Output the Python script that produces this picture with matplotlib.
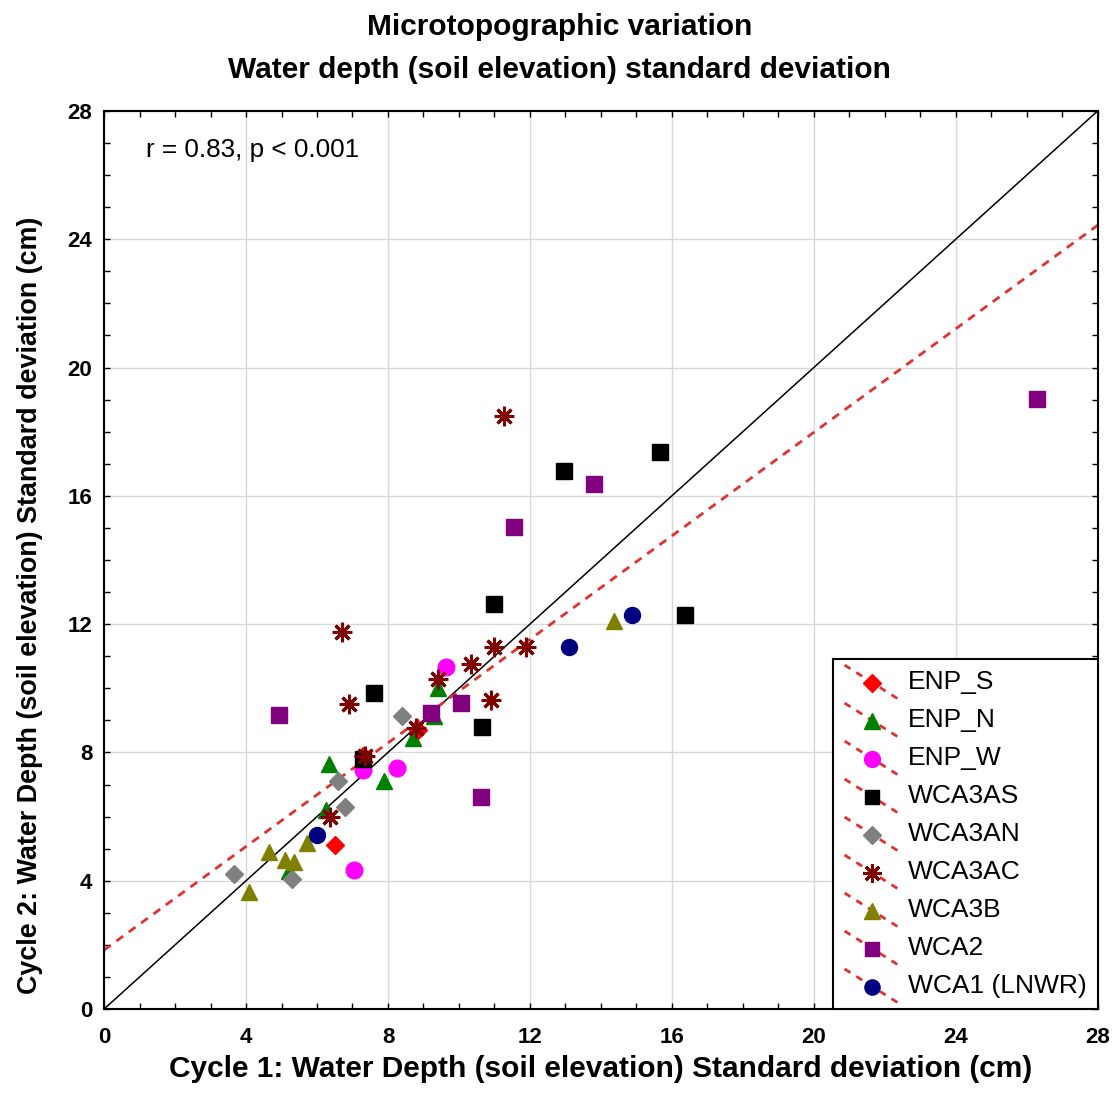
import numpy as np
import matplotlib
matplotlib.use('Agg')
import matplotlib.pyplot as plt
from matplotlib.lines import Line2D
from matplotlib.legend_handler import HandlerBase

plt.rcParams['font.family'] = ['Liberation Sans', 'DejaVu Sans']

# site groups and their (cycle 1, cycle 2) standard deviations
sites = ['ENP_S', 'ENP_N', 'ENP_W', 'WCA3AS', 'WCA3AN', 'WCA3AC', 'WCA3B', 'WCA2', 'WCA1 (LNWR)']

enp_s_x = [6.5, 7.3, 8.85]
enp_s_y = [5.1, 7.9, 8.7]
enp_n_x = [5.2, 6.25, 6.35, 7.9, 8.7, 9.3, 9.4]
enp_n_y = [4.3, 6.2, 7.65, 7.1, 8.45, 9.15, 10.0]
enp_w_x = [7.04, 7.3, 8.25, 9.63]
enp_w_y = [4.33, 7.45, 7.5, 10.66]
wca3as_x = [7.3, 7.6, 10.65, 10.99, 12.96, 15.66, 16.37]
wca3as_y = [7.8, 9.85, 8.8, 12.63, 16.78, 17.37, 12.29]
wca3an_x = [3.65, 5.3, 6.6, 6.8, 8.4]
wca3an_y = [4.2, 4.05, 7.1, 6.3, 9.15]
wca3ac_x = [6.37, 6.7, 6.9, 7.35, 8.8, 9.4, 10.35, 10.9, 11.0, 11.9, 11.27]
wca3ac_y = [6.0, 11.75, 9.5, 7.9, 8.75, 10.3, 10.75, 9.65, 11.3, 11.3, 18.49]
wca3b_x = [4.08, 4.65, 5.1, 5.35, 5.72, 14.37]
wca3b_y = [3.65, 4.9, 4.65, 4.6, 5.17, 12.1]
wca2_x = [4.93, 9.2, 10.05, 10.62, 11.55, 13.8, 26.28]
wca2_y = [9.17, 9.22, 9.54, 6.61, 15.03, 16.37, 19.02]
wca1_x = [6.0, 13.1, 14.87]
wca1_y = [5.43, 11.29, 12.29]

xs = [enp_s_x, enp_n_x, enp_w_x, wca3as_x, wca3an_x, wca3ac_x, wca3b_x, wca2_x, wca1_x]
ys = [enp_s_y, enp_n_y, enp_w_y, wca3as_y, wca3an_y, wca3ac_y, wca3b_y, wca2_y, wca1_y]

# regression line
fit_intercept = 1.84
fit_slope = 0.807

colors = ['#ff0000', '#008000', '#ff00ff', '#000000', '#808080', '#800000', '#808000', '#800080', '#000080']
markers = ['D', '^', 'o', 's', 'D', (8, 2, 0), '^', 's', 'o']
sizes = [9.5, 12, 12, 11, 9.5, 14, 12, 11, 11.5]


# Statistica style legend key: marker with the dashed fit line running diagonally through it
class DiagHandler(HandlerBase):
    def create_artists(self, legend, orig_handle, xdescent, ydescent, width, height, fontsize, trans):
        x0 = -xdescent
        y0 = -ydescent
        line = Line2D([x0, x0 + width], [y0 + height * 1.3, y0 - height * 0.6],
                      color='#e03030', linestyle=(0, (2.5, 2.5)), linewidth=2)
        mk = Line2D([x0 + width * 0.5], [y0 + height * 0.35], marker=orig_handle.get_marker(),
                    markersize=orig_handle.get_markersize() * 0.95,
                    color=orig_handle.get_color(), markeredgecolor=orig_handle.get_markeredgecolor(),
                    markeredgewidth=orig_handle.get_markeredgewidth(), linestyle='none')
        line.set_transform(trans)
        mk.set_transform(trans)
        return [line, mk]


fig = plt.figure(figsize=(11.19, 10.98), dpi=100)
ax = fig.add_axes([0.093, 0.081, 0.888, 0.818])

handles = []
for i in range(len(sites)):
    h, = ax.plot(xs[i], ys[i], linestyle='none', marker=markers[i], markersize=sizes[i],
                 color=colors[i], markeredgecolor=colors[i],
                 markeredgewidth=2.2 if i == 5 else 1, label=sites[i], zorder=3)
    handles.append(h)

line_x = np.array([0, 28])
ax.plot(line_x, line_x, color='black', linewidth=1.1, zorder=2)
ax.plot(line_x, fit_intercept + fit_slope * line_x, color='#e03030', linewidth=2,
        linestyle=(0, (3, 2.5)), zorder=2)

ax.set_xlim(0, 28)
ax.set_ylim(0, 28)
ax.set_xticks(np.arange(0, 29, 4))
ax.set_yticks(np.arange(0, 29, 4))
ax.set_xticks(np.arange(0, 29, 1), minor=True)
ax.set_yticks(np.arange(0, 29, 1), minor=True)
ax.tick_params(which='both', direction='in', top=True, right=True, length=4, width=1)
ax.tick_params(axis='x', which='major', labelsize=16, pad=13)
ax.tick_params(axis='y', which='major', labelsize=16, pad=8.5)
for lab in ax.get_xticklabels() + ax.get_yticklabels():
    lab.set_fontweight('bold')
for sp in ax.spines.values():
    sp.set_linewidth(1.5)
ax.grid(True, which='major', color='#d8d8d8', linewidth=1, zorder=0)
ax.set_axisbelow(True)

ax.set_xlabel('Cycle 1: Water Depth (soil elevation) Standard deviation (cm)',
              fontsize=21.5, fontweight='bold', va='center')
ax.xaxis.set_label_coords(0.5, -0.067)
ax.set_ylabel('Cycle 2: Water Depth (soil elevation) Standard deviation (cm)',
              fontsize=19.4, fontweight='bold', va='center')
ax.yaxis.set_label_coords(-0.0745, 0.45)

fig.text(0.5, 0.975, 'Microtopographic variation', fontsize=21.5, fontweight='bold',
         ha='center', va='center')
fig.text(0.5, 0.936, 'Water depth (soil elevation) standard deviation', fontsize=21.5,
         fontweight='bold', ha='center', va='center')

ax.text(0.042, 0.9566, 'r = 0.83, p < 0.001', transform=ax.transAxes, fontsize=18.8,
        ha='left', va='center')

leg = ax.legend(handles=handles, labels=sites, loc='lower right', borderaxespad=0,
                fontsize=19, handler_map={Line2D: DiagHandler()}, handlelength=2.1,
                labelspacing=0.53, fancybox=False, edgecolor='black', framealpha=1,
                borderpad=0.42, handletextpad=0.3)
leg.get_frame().set_linewidth(1.5)

fig.savefig('out.png', dpi=100)
